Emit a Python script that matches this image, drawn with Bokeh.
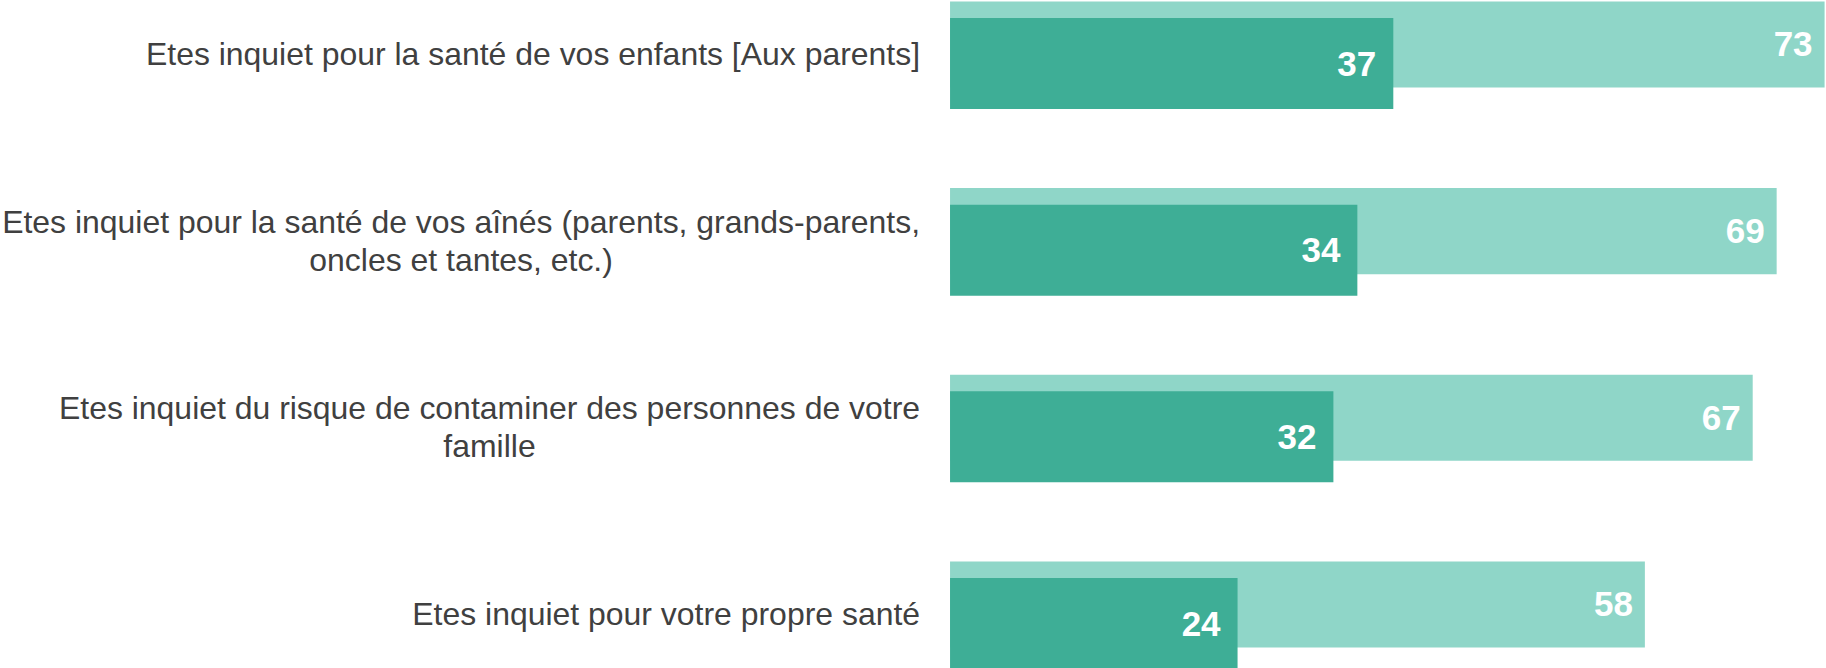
from bokeh.plotting import figure
from bokeh.models import ColumnDataSource, Range1d
from bokeh.transform import dodge
from bokeh.core.properties import value
from bokeh.embed import file_html
from bokeh.resources import INLINE

categories = [
    "Etes inquiet pour la santé de vos enfants [Aux parents]",
    "Etes inquiet pour la santé de vos aînés (parents, grands-parents,\noncles et tantes, etc.)",
    "Etes inquiet du risque de contaminer des personnes de votre\nfamille",
    "Etes inquiet pour votre propre santé",
]
series_light = [73, 69, 67, 58]
series_dark = [37, 34, 32, 24]

LIGHT = "#8fd6c8"
DARK = "#3eae96"
FONT = value("Liberation Sans")

src = ColumnDataSource(dict(
    idx=list(range(len(categories))),
    label=categories,
    light=series_light,
    dark=series_dark,
    light_txt=[str(v) for v in series_light],
    dark_txt=[str(v) for v in series_dark],
))

p = figure(width=1826, height=668, output_backend="svg", toolbar_location=None,
           x_range=Range1d(-79.26, 73.16), y_range=Range1d(3.292, -0.2866),
           x_axis_type=None, y_axis_type=None, min_border=0,
           outline_line_color=None, background_fill_color="white",
           border_fill_color="white")
p.grid.visible = False

p.hbar(y=dodge("idx", -0.051, range=p.y_range), left=0, right="light", height=0.461,
       source=src, fill_color=LIGHT, line_color=None)
p.hbar(y=dodge("idx", 0.051, range=p.y_range), left=0, right="dark", height=0.4875,
       source=src, fill_color=DARK, line_color=None)

p.text(x="light", y=dodge("idx", -0.051, range=p.y_range), text="light_txt", source=src,
       text_align="right", text_baseline="middle", x_offset=-12,
       text_font=FONT, text_font_size="35px", text_font_style="bold", text_color="white")
p.text(x="dark", y=dodge("idx", 0.051, range=p.y_range), text="dark_txt", source=src,
       text_align="right", text_baseline="middle", x_offset=-17,
       text_font=FONT, text_font_size="35px", text_font_style="bold", text_color="white")

p.text(x=0, y="idx", text="label", source=src, anchor="center_right",
       text_align="center", text_baseline="middle", x_offset=-30,
       text_font=FONT, text_font_size="31.95px", text_color="#404040",
       text_line_height=1.05)

open("out.html", "w").write(file_html(p, INLINE))
